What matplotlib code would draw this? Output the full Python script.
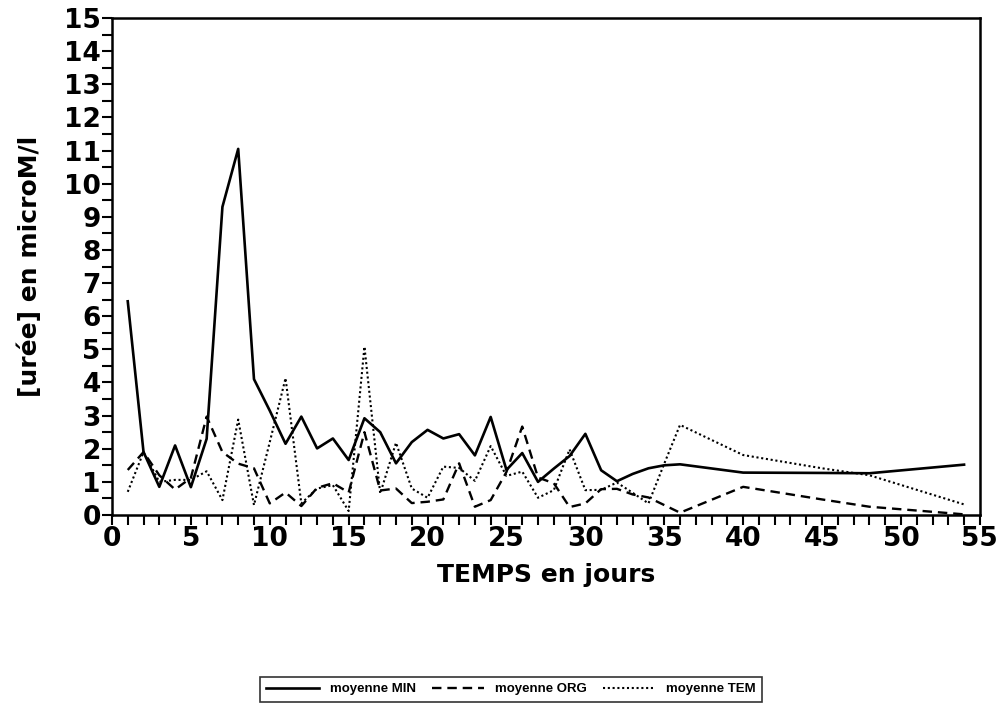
import matplotlib
matplotlib.use("Agg")
import matplotlib.pyplot as plt
from matplotlib.ticker import MultipleLocator

plt.rcParams['font.family'] = ['DejaVu Sans']
plt.rcParams['font.weight'] = 'bold'

# days of sampling
days = list(range(1, 37)) + [40, 45, 48, 54]

# mean urea concentration (microM/l)
moy_min = [6.45, 1.9, 0.85, 2.1, 0.84, 2.3, 9.3, 11.05, 4.1, 3.15,
           2.15, 2.97, 2.01, 2.31, 1.66, 2.92, 2.5, 1.56, 2.2, 2.57,
           2.31, 2.44, 1.8, 2.96, 1.36, 1.87, 1.0, 1.4, 1.78, 2.45,
           1.35, 1.02, 1.24, 1.41, 1.5, 1.53, 1.28, 1.27, 1.26, 1.52]
moy_org = [1.36, 1.9, 1.2, 0.77, 1.12, 2.97, 1.9, 1.55, 1.41, 0.35,
           0.68, 0.27, 0.82, 0.96, 0.68, 2.5, 0.74, 0.8, 0.36, 0.4,
           0.47, 1.56, 0.25, 0.45, 1.3, 2.67, 1.13, 0.96, 0.24, 0.35,
           0.78, 0.79, 0.62, 0.53, 0.3, 0.07, 0.85, 0.47, 0.25, 0.02]
moy_tem = [0.7, 1.9, 1.0, 1.06, 1.06, 1.32, 0.45, 2.88, 0.3, 2.2,
           4.13, 0.35, 0.8, 0.9, 0.12, 5.08, 0.65, 2.18, 0.8, 0.52,
           1.46, 1.42, 1.03, 2.08, 1.18, 1.31, 0.52, 0.75, 1.98, 0.75,
           0.76, 0.98, 0.67, 0.35, 1.55, 2.72, 1.81, 1.41, 1.2, 0.32]

fig = plt.figure(figsize=(10.06, 7.21), dpi=100)
ax = fig.add_axes([0.1113, 0.2857, 0.8627, 0.6893])

l1, = ax.plot(days, moy_min, color='black', lw=1.9, ls='-')
l2, = ax.plot(days, moy_org, color='black', lw=1.7, ls=(0, (4, 2.5)))
l3, = ax.plot(days, moy_tem, color='black', lw=1.5, ls=(0, (1, 1.3)))

ax.set_xlim(0, 55)
ax.set_ylim(0, 15)
ax.xaxis.set_major_locator(MultipleLocator(5))
ax.xaxis.set_minor_locator(MultipleLocator(1))
ax.yaxis.set_major_locator(MultipleLocator(1))
ax.yaxis.set_minor_locator(MultipleLocator(0.5))
ax.tick_params(which='both', direction='out', length=7, width=1.5, color='black')
ax.tick_params(axis='both', which='major', labelsize=19, pad=1)
for lab in ax.get_xticklabels() + ax.get_yticklabels():
    lab.set_fontweight('bold')
for sp in ax.spines.values():
    sp.set_linewidth(1.8)

ax.set_xlabel('TEMPS en jours', fontsize=18, fontweight='bold', labelpad=8)
ax.set_ylabel('[urée] en microM/l', fontsize=18, fontweight='bold', labelpad=16)

leg = fig.legend([l1, l2, l3], ['moyenne MIN', 'moyenne ORG', 'moyenne TEM'],
                 loc='center', bbox_to_anchor=(0.508, 0.044), ncol=3,
                 prop={'family': 'Liberation Sans', 'weight': 'bold', 'size': 9.5},
                 handlelength=4, frameon=True, fancybox=False,
                 edgecolor='black', borderpad=0.5, columnspacing=1.2)
leg.get_frame().set_linewidth(1.2)

fig.savefig('out.png', dpi=100)
